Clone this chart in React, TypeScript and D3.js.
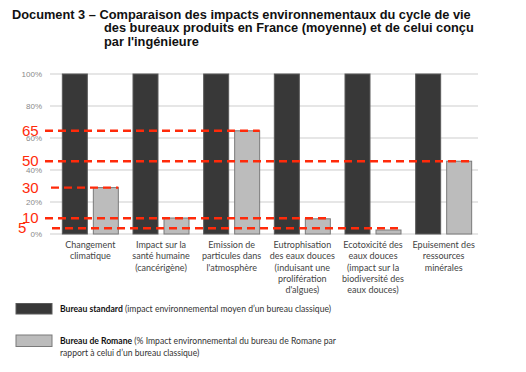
import React from 'react';
import * as d3 from 'd3';

const categories = [
  ['Changement', 'climatique'],
  ['Impact sur la', 'santé humaine', '(cancérigène)'],
  ['Emission de', 'particules dans', "l'atmosphère"],
  ['Eutrophisation', 'des eaux douces', '(induisant une', 'prolifération', "d'algues)"],
  ['Ecotoxicité des', 'eaux douces', '(impact sur la', 'biodiversité des', 'eaux douces)'],
  ['Epuisement des', 'ressources', 'minérales'],
];
const standardValues = [100, 100, 100, 100, 100, 100];
const romaneValues = [29, 10, 64.5, 9.5, 2.5, 45.5];
const yTicks = [0, 20, 40, 60, 80, 100];

// hand-drawn red marks: label, height on the axis, last group covered
const markLabels = ['65', '50', '30', '10', '5'];
const markValues = [64.5, 45.5, 29, 9.8, 3.6];
const markEnds = [2, 5, 0, 3, 4];

const titleLines = [
  'Document 3 – Comparaison des impacts environnementaux du cycle de vie',
  'des bureaux produits en France (moyenne) et de celui conçu',
  "par l'ingénieure",
];

const App = () => {
  const width = 526;
  const height = 372;
  const x = d3.scaleBand<number>().domain(d3.range(categories.length)).range([55, 479]);
  const y = d3.scaleLinear().domain([0, 100]).range([234, 74]);
  const barW = 25;
  const gap = 6;
  const red = '#ff2a0a';
  const lbl = 'Lato, "Open Sans", sans-serif';

  return (
    <svg width={width} height={height} style={{ position: 'absolute', left: 0, top: 0, background: '#fff' }}>
      {titleLines.map((t, i) => (
        <text key={i} x={i === 0 ? 12 : 104} y={18.5 + i * 13.8} fontFamily="'Liberation Sans', Arial, sans-serif"
          fontWeight="bold" fontSize={12.8} fill="#111">{t}</text>
      ))}

      {yTicks.map(t => (
        <g key={t}>
          <line x1={50} x2={478} y1={y(t)} y2={y(t)} stroke="#dedede" strokeWidth={1.3} />
          <text x={42} y={y(t) + 3} textAnchor="end" fontSize={8} fill="#8a8a8a"
            fontFamily="'Liberation Sans', Arial, sans-serif">{t}%</text>
        </g>
      ))}

      {categories.map((c, i) => {
        const cx = x(i)! + x.bandwidth() / 2;
        return (
          <g key={i}>
            <rect x={cx - gap / 2 - barW} y={y(standardValues[i])} width={barW}
              height={y(0) - y(standardValues[i])} fill="#383838" stroke="#5a5a5a" strokeWidth={1} />
            <rect x={cx + gap / 2} y={y(romaneValues[i])} width={barW}
              height={y(0) - y(romaneValues[i])} fill="#bcbcbc" stroke="#7a7a7a" strokeWidth={1} />
            {c.map((l, j) => (
              <text key={j} x={cx} y={248 + j * 11.3} textAnchor="middle" fontFamily={lbl}
                fontSize={9} fill="#444">{l}</text>
            ))}
          </g>
        );
      })}

      {markLabels.map((m, i) => {
        const cx = x(markEnds[i])! + x.bandwidth() / 2;
        const x1 = m === '30' ? 51 : m === '5' ? 52 : 45;
        return (
          <g key={m}>
            <line x1={x1} x2={cx + gap / 2 + barW} y1={y(markValues[i])} y2={y(markValues[i])}
              stroke={red} strokeWidth={2.4} strokeDasharray="8,5" />
            <text x={m === '5' ? 18 : 22} y={y(markValues[i]) + 5} fontSize={15}
              fontFamily="'Liberation Sans', Arial, sans-serif" fill={red}>{m}</text>
          </g>
        );
      })}

      <rect x={16} y={303.5} width={36} height={10.5} fill="#383838" stroke="#5a5a5a" />
      <text x={60} y={312} fontFamily={lbl} fontSize={8.6} fill="#333">
        <tspan fontWeight="bold" fill="#111">Bureau standard</tspan> (impact environnemental moyen d’un bureau classique)
      </text>
      <rect x={16} y={335} width={36} height={11.5} fill="#bcbcbc" stroke="#7a7a7a" />
      <text x={60} y={344} fontFamily={lbl} fontSize={8.6} fill="#333">
        <tspan fontWeight="bold" fill="#111">Bureau de Romane</tspan> (% Impact environnemental du bureau de Romane par
      </text>
      <text x={60} y={355.5} fontFamily={lbl} fontSize={8.6} fill="#333">rapport à celui d’un bureau classique)</text>
    </svg>
  );
};

export default App;
